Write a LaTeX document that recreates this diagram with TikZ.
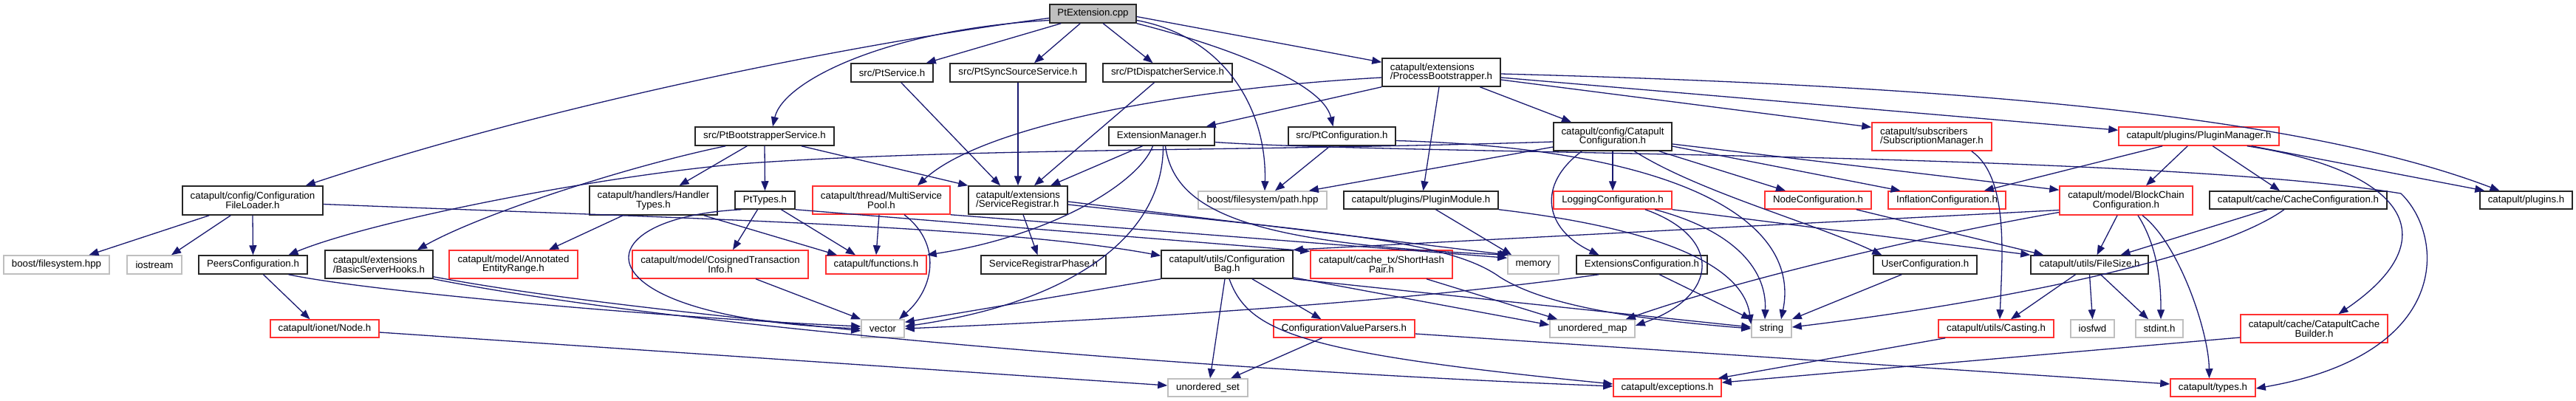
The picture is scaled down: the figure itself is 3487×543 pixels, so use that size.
\documentclass[tikz,border=0pt]{standalone}
\usepackage{fontspec}
\setmainfont{Liberation Sans}
\usetikzlibrary{arrows.meta}
\definecolor{edgec}{HTML}{191970}
\definecolor{redc}{HTML}{FF3030}
\definecolor{grayc}{HTML}{BFBFBF}
\definecolor{fillc}{HTML}{BFBFBF}
\begin{document}
\begin{tikzpicture}[x=1pt,y=-1pt,
  nb/.style={draw=black!85,line width=1.5pt,fill=white,inner sep=0pt,align=center,font=\fontsize{13.3}{12.7}\selectfont},
  nbl/.style={nb,align=left},
  rb/.style={nb,draw=redc},
  rbl/.style={rb,align=left},
  gb/.style={nb,draw=grayc},
  dep/.style={draw=edgec,line width=1.3pt,-{Triangle[length=13pt,width=10pt]}}]
\useasboundingbox[fill=white] (0,0) rectangle (3487,543);
% row 0
\node[nb,fill=fillc,minimum width=117pt,minimum height=25pt] (ptext) at (1479.5,18.5) {PtExtension.cpp};
% row 1
\node[nb,minimum width=111pt,minimum height=25pt] (ptsvc) at (1207.5,98.5) {src/PtService.h};
\node[nb,minimum width=184pt,minimum height=25pt] (ptsync) at (1378,98.5) {src/PtSyncSourceService.h};
\node[nb,minimum width=175pt,minimum height=25pt] (ptdisp) at (1580.5,98.5) {src/PtDispatcherService.h};
\node[nbl,minimum width=160pt,minimum height=38pt] (procboot) at (1951,98) {catapult/extensions\\/ProcessBootstrapper.h};
% row 2
\node[nb,minimum width=188pt,minimum height=25pt] (ptboot) at (1035,184.5) {src/PtBootstrapperService.h};
\node[nb,minimum width=143pt,minimum height=25pt] (extmgr) at (1572.5,184.5) {ExtensionManager.h};
\node[nb,minimum width=145pt,minimum height=25pt] (ptconf) at (1816.5,184.5) {src/PtConfiguration.h};
\node[nb,minimum width=160pt,minimum height=38pt] (catconf) at (2183,185) {catapult/config/Catapult\\Configuration.h};
\node[rbl,minimum width=162pt,minimum height=38pt] (submgr) at (2615,185) {catapult/subscribers\\/SubscriptionManager.h};
\node[rb,minimum width=217pt,minimum height=25pt] (plugmgr) at (2976.5,184.5) {catapult/plugins/PluginManager.h};
% row 3
\node[nb,minimum width=190pt,minimum height=39pt] (cfl) at (342,271.5) {catapult/config/Configuration\\FileLoader.h};
\node[nb,minimum width=173pt,minimum height=39pt] (handler) at (884.5,271.5) {catapult/handlers/Handler\\Types.h};
\node[nb,minimum width=81pt,minimum height=24pt] (pttypes) at (1035.5,271) {PtTypes.h};
\node[rb,minimum width=186pt,minimum height=38pt] (msp) at (1193,271) {catapult/thread/MultiService\\Pool.h};
\node[nbl,minimum width=134pt,minimum height=38pt] (sreg) at (1378,271) {catapult/extensions\\/ServiceRegistrar.h};
\node[gb,minimum width=174pt,minimum height=24pt] (path) at (1709,271) {boost/filesystem/path.hpp};
\node[nb,minimum width=209pt,minimum height=24pt] (plugmod) at (1923.5,271) {catapult/plugins/PluginModule.h};
\node[rb,minimum width=160pt,minimum height=24pt] (logconf) at (2183,271) {LoggingConfiguration.h};
\node[rb,minimum width=144pt,minimum height=24pt] (nodeconf) at (2461,271) {NodeConfiguration.h};
\node[rb,minimum width=159pt,minimum height=24pt] (inflconf) at (2635.5,271) {InflationConfiguration.h};
\node[rb,minimum width=180pt,minimum height=39pt] (bcconf) at (2878,271.5) {catapult/model/BlockChain\\Configuration.h};
\node[nb,minimum width=240pt,minimum height=24pt] (cacheconf) at (3111,271) {catapult/cache/CacheConfiguration.h};
\node[nb,minimum width=125pt,minimum height=24pt] (plugins) at (3419.5,271) {catapult/plugins.h};
% row 4
\node[gb,minimum width=143pt,minimum height=25pt] (fsys) at (76.5,358.5) {boost/filesystem.hpp};
\node[gb,minimum width=74pt,minimum height=25pt] (iostream) at (209,358.5) {iostream};
\node[nb,minimum width=147pt,minimum height=25pt] (peers) at (342.5,358.5) {PeersConfiguration.h};
\node[nbl,minimum width=146pt,minimum height=38pt] (bsh) at (513,358) {catapult/extensions\\/BasicServerHooks.h};
\node[rb,minimum width=174pt,minimum height=38pt] (aer) at (695,358) {catapult/model/Annotated\\EntityRange.h};
\node[rb,minimum width=238pt,minimum height=38pt] (cti) at (975,358) {catapult/model/CosignedTransaction\\Info.h};
\node[rb,minimum width=136pt,minimum height=25pt] (func) at (1186,358.5) {catapult/functions.h};
\node[nb,minimum width=169pt,minimum height=25pt] (srp) at (1412.5,358.5) {ServiceRegistrarPhase.h};
\node[nb,minimum width=178pt,minimum height=38pt] (cbag) at (1661,358) {catapult/utils/Configuration\\Bag.h};
\node[rb,minimum width=192pt,minimum height=38pt] (shp) at (1870,358) {catapult/cache\_tx/ShortHash\\Pair.h};
\node[gb,minimum width=69pt,minimum height=25pt] (memory) at (2075.5,358.5) {memory};
\node[nb,minimum width=177pt,minimum height=25pt] (extconf) at (2222.5,358.5) {ExtensionsConfiguration.h};
\node[nb,minimum width=140pt,minimum height=25pt] (userconf) at (2606,358.5) {UserConfiguration.h};
\node[nb,minimum width=159pt,minimum height=25pt] (filesize) at (2828.5,358.5) {catapult/utils/FileSize.h};
% row 5
\node[rb,minimum width=147pt,minimum height=24pt] (node) at (439.5,445) {catapult/ionet/Node.h};
\node[gb,minimum width=58pt,minimum height=24pt] (vector) at (1195,445) {vector};
\node[rb,minimum width=191pt,minimum height=24pt] (cvp) at (1819.5,445) {ConfigurationValueParsers.h};
\node[gb,minimum width=115pt,minimum height=24pt] (umap) at (2155.5,445) {unordered\_map};
\node[gb,minimum width=54pt,minimum height=24pt] (string) at (2398,445) {string};
\node[rb,minimum width=156pt,minimum height=24pt] (casting) at (2702,445) {catapult/utils/Casting.h};
\node[gb,minimum width=59pt,minimum height=24pt] (iosfwd) at (2832.5,445) {iosfwd};
\node[gb,minimum width=64pt,minimum height=24pt] (stdint) at (2923,445) {stdint.h};
\node[rb,minimum width=199pt,minimum height=38pt] (ccb) at (3132.5,445) {catapult/cache/CatapultCache\\Builder.h};
% row 6
\node[gb,minimum width=108pt,minimum height=24pt] (uset) at (1635,525) {unordered\_set};
\node[rb,minimum width=146pt,minimum height=24pt] (exc) at (2257,525) {catapult/exceptions.h};
\node[rb,minimum width=115pt,minimum height=24pt] (types) at (2995.5,525) {catapult/types.h};

% PtExtension
\draw[dep] ([yshift=-6pt]ptext.west) .. controls (1150,60) and (750,140) .. ([xshift=-24pt]cfl.north east);
\draw[dep] ([yshift=-9pt]ptext.west) .. controls (1200,40) and (1060,110) .. ([xshift=11pt]ptboot.north);
\draw[dep] ([xshift=16pt]ptext.south west) -- ([xshift=-10pt]ptsvc.north east);
\draw[dep] ([xshift=42pt]ptext.south west) -- ([xshift=22pt]ptsync.north);
\draw[dep] ([xshift=73pt]ptext.south west) -- ([xshift=-20pt]ptdisp.north);
\draw[dep] ([yshift=-9pt]ptext.east) .. controls (1660,50) and (1715,150) .. ([xshift=3pt]path.north);
\draw[dep] (ptext.south east) .. controls (1650,60) and (1790,110) .. ([xshift=-12pt]ptconf.north);
\draw[dep] ([yshift=-4pt]ptext.east) -- ([yshift=-6pt]procboot.north west);
% ConfigurationFileLoader
\draw[dep] ([xshift=37pt]cfl.south west) -- ([xshift=44pt]fsys.north);
\draw[dep] ([xshift=66pt]cfl.south west) -- ([xshift=23pt]iostream.north);
\draw[dep] (cfl.south) -- (peers.north);
\draw[dep] ([yshift=-5pt]cfl.east) .. controls (900,295) and (1350,305) .. ([yshift=-8pt]cbag.north west);
% PtBootstrapperService
\draw[dep] ([xshift=42pt]ptboot.south west) .. controls (850,225) and (650,290) .. ([xshift=52pt]bsh.north);
\draw[dep] ([xshift=71pt]ptboot.south west) -- ([xshift=35pt]handler.north);
\draw[dep] (ptboot.south) -- (pttypes.north);
\draw[dep] ([xshift=-45pt]ptboot.south east) -- (sreg.north west);
% into ServiceRegistrar
\draw[dep] ([xshift=-44pt]ptsvc.south east) -- ([xshift=-24pt]sreg.north);
\draw[dep] (ptsync.south) -- (sreg.north);
\draw[dep] ([xshift=-18pt]ptdisp.south) -- ([xshift=22pt]sreg.north);
\draw[dep] ([xshift=-26pt]extmgr.south) -- ([xshift=44pt]sreg.north);
% ProcessBootstrapper
\draw[dep] ([yshift=-7pt]procboot.west) .. controls (1600,120) and (1330,170) .. ([xshift=49pt]msp.north);
\draw[dep] (procboot.south west) -- ([xshift=-12pt]extmgr.north east);
\draw[dep] ([xshift=133pt]procboot.south west) -- ([xshift=-56pt]catconf.north);
\draw[dep] ([xshift=-3pt]procboot.south) -- ([xshift=3pt]plugmod.north);
\draw[dep] ([yshift=-10pt]procboot.east) -- ([yshift=-7pt]submgr.north west);
\draw[dep] ([yshift=-7pt]procboot.east) -- ([yshift=-5pt]plugmgr.north west);
\draw[dep] ([yshift=-2pt]procboot.east) .. controls (2600,115) and (3100,150) .. ([xshift=-36pt]plugins.north);
% ExtensionManager
\draw[dep] ([xshift=-12pt]extmgr.south) .. controls (1540,250) and (1420,320) .. (func.north east);
\draw[dep] ([xshift=2pt]extmgr.south) .. controls (1575,320) and (1450,410) .. ([yshift=3pt]vector.east);
\draw[dep] ([xshift=5pt]extmgr.south) .. controls (1590,290) and (1700,330) .. (memory.north west);
\draw[dep] ([yshift=-8pt]extmgr.east) .. controls (1900,210) and (2900,205) .. (3250,262) .. controls (3310,320) and (3320,480) .. ([yshift=-1pt]types.east);
% PtConfiguration
\draw[dep] ([xshift=-16pt]ptconf.south) -- ([xshift=17pt]path.north);
\draw[dep] ([yshift=-6pt]ptconf.east) .. controls (2250,200) and (2440,290) .. ([xshift=13pt]string.north);
% CatapultConfiguration
\draw[dep] ([yshift=-7pt]catconf.west) .. controls (1700,205) and (1300,200) .. (1000,222) .. controls (800,240) and (500,300) .. ([xshift=48pt]peers.north);
\draw[dep] ([yshift=-14pt]catconf.west) -- ([xshift=-25pt]path.north east);
\draw[dep] (catconf.south) -- (logconf.north);
\draw[dep] ([xshift=-18pt]catconf.south east) -- ([xshift=-44pt]nodeconf.north);
\draw[dep] ([yshift=-13pt]catconf.east) -- ([xshift=-63pt]inflconf.north);
\draw[dep] ([yshift=-10pt]catconf.east) -- ([yshift=-6pt]bcconf.north west);
\draw[dep] ([xshift=39pt]catconf.south west) .. controls (2080,250) and (2090,310) .. ([xshift=-58pt]extconf.north);
\draw[dep] ([xshift=110pt]catconf.south west) .. controls (2300,260) and (2450,300) .. ([xshift=12pt]userconf.north west);
% PluginManager
\draw[dep] ([xshift=60pt]plugmgr.south west) -- ([xshift=-30pt]inflconf.north east);
\draw[dep] ([xshift=94pt]plugmgr.south west) -- ([xshift=27pt]bcconf.north);
\draw[dep] ([xshift=128pt]plugmgr.south west) -- ([xshift=-25pt]cacheconf.north);
\draw[dep] ([xshift=-38pt]plugmgr.south east) -- ([xshift=7pt]plugins.north west);
\draw[dep] ([xshift=-44pt]plugmgr.south east) .. controls (3250,230) and (3320,320) .. ([xshift=33pt]ccb.north);
% LoggingConfiguration, NodeConfiguration
\draw[dep] ([xshift=44pt]logconf.south) .. controls (2330,320) and (2330,400) .. ([yshift=4pt]umap.east);
\draw[dep] ([xshift=57pt]logconf.south) .. controls (2340,310) and (2392,360) .. ([xshift=-9pt]string.north);
\draw[dep] (logconf.south east) -- (filesize.north west);
\draw[dep] ([xshift=-21pt]nodeconf.south east) -- ([xshift=18pt]filesize.north west);
% BlockChainConfiguration
\draw[dep] ([xshift=-12pt]bcconf.south) -- ([xshift=10pt]filesize.north);
\draw[dep] ([xshift=16pt]bcconf.south) .. controls (2925,340) and (2925,400) .. ([xshift=2pt]stdint.north);
\draw[dep] ([xshift=22pt]bcconf.south) .. controls (2950,330) and (2990,450) .. ([xshift=-5pt]types.north);
\draw[dep] ([yshift=-13pt]bcconf.west) -- (cbag.north east);
\draw[dep] ([yshift=-16pt]bcconf.west) .. controls (2600,320) and (2350,380) .. ([xshift=-13pt]umap.north east);
% CacheConfiguration
\draw[dep] ([xshift=-42pt]cacheconf.south) -- ([xshift=42pt]filesize.north);
\draw[dep] ([xshift=-19pt]cacheconf.south) .. controls (3000,350) and (2700,410) .. ([yshift=2pt]string.east);
% FileSize etc.
\draw[dep] ([xshift=-19pt]filesize.south) -- ([xshift=20pt]casting.north);
\draw[dep] (filesize.south) -- (iosfwd.north);
\draw[dep] ([xshift=15pt]filesize.south) -- ([xshift=-15pt]stdint.north);
\draw[dep] ([xshift=-28pt]submgr.south east) .. controls (2720,240) and (2710,350) .. ([xshift=5pt]casting.north);
\draw[dep] ([xshift=10pt]casting.south west) -- ([xshift=-5pt]exc.north east);
\draw[dep] ([yshift=-12pt]ccb.west) -- ([yshift=7pt]exc.east);
\draw[dep] ([yshift=-7pt]cvp.east) -- ([yshift=5pt]types.west);
\draw[dep] ([xshift=-30pt]cvp.south) -- ([xshift=31pt]uset.north);
% ConfigurationBag
\draw[dep] ([xshift=-3pt]cbag.south) -- ([xshift=3pt]uset.north);
\draw[dep] ([xshift=34pt]cbag.south) -- ([xshift=-31pt]cvp.north);
\draw[dep] ([xshift=3pt]cbag.south) .. controls (1690,450) and (1760,478) .. ([yshift=5pt]exc.west);
\draw[dep] (cbag.south west) -- ([yshift=-4pt]vector.north east);
\draw[dep] ([yshift=2pt]cbag.south east) -- ([yshift=5pt]umap.west);
\draw[dep] (cbag.south east) -- ([yshift=2pt]string.west);
\draw[dep] ([xshift=61pt]shp.south) -- ([xshift=11pt]umap.north west);
% ExtensionsConfiguration, UserConfiguration
\draw[dep] ([xshift=31pt]extconf.south west) .. controls (2000,395) and (1700,425) .. (vector.east);
\draw[dep] ([xshift=113pt]extconf.south west) -- (string.north west);
\draw[dep] ([xshift=39pt]userconf.south west) -- (string.north east);
% PluginModule
\draw[dep] ([xshift=20pt]plugmod.south) -- ([xshift=6pt]memory.north west);
\draw[dep] (plugmod.south east) .. controls (2250,310) and (2360,360) .. ([yshift=6pt]string.west);
% ServiceRegistrar
\draw[dep] ([xshift=7pt]sreg.south) -- ([xshift=-8pt]srp.north);
\draw[dep] ([yshift=-2pt]sreg.east) -- ([xshift=2pt]memory.north west);
\draw[dep] ([yshift=-6pt]sreg.east) .. controls (1800,315) and (1960,325) .. (2030,375) .. controls (2100,420) and (2250,435) .. (string.west);
% MultiServicePool
\draw[dep] ([xshift=-3pt]msp.south) -- (func.north);
\draw[dep] ([xshift=31pt]msp.south) .. controls (1275,330) and (1265,390) .. ([xshift=22pt]vector.north);
\draw[dep] (msp.south east) -- ([yshift=-4pt]memory.north west);
% PtTypes
\draw[dep] ([xshift=-10pt]pttypes.south) -- ([xshift=17pt]cti.north);
\draw[dep] ([xshift=22pt]pttypes.south) -- ([xshift=-28pt]func.north);
\draw[dep] (pttypes.south east) -- ([yshift=-2pt]shp.north west);
\draw[dep] ([xshift=-32pt]pttypes.south) .. controls (780,295) and (780,430) .. (vector.west);
% HandlerTypes
\draw[dep] ([xshift=46pt]handler.south west) -- ([xshift=48pt]aer.north);
\draw[dep] ([xshift=-19pt]handler.south east) -- ([xshift=-53pt]func.north);
% PeersConfiguration, BasicServerHooks, Node, CosignedTransactionInfo
\draw[dep] ([xshift=14pt]peers.south) -- ([xshift=-20pt]node.north);
\draw[dep] ([xshift=48pt]peers.south) .. controls (500,395) and (900,430) .. ([yshift=3pt]vector.west);
\draw[dep] ([yshift=3pt]bsh.south east) .. controls (750,405) and (950,425) .. ([yshift=-3pt]vector.west);
\draw[dep] (bsh.south east) .. controls (900,440) and (1600,500) .. ([yshift=2pt]exc.west);
\draw[dep] ([yshift=-5pt]node.east) -- ([yshift=3pt]uset.west);
\draw[dep] ([xshift=48pt]cti.south) -- (vector.north west);
\end{tikzpicture}
\end{document}
